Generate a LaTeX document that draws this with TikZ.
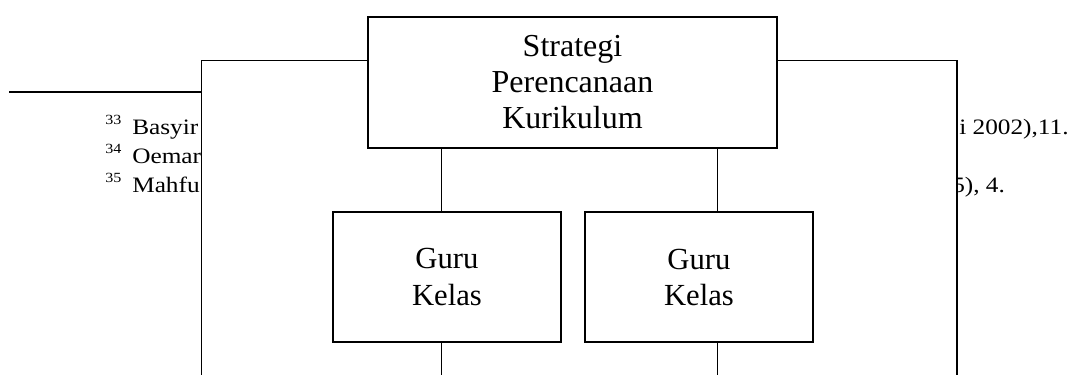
\documentclass[tikz,border=0pt]{standalone}
\usepackage{fontspec}
\usepackage{graphicx}
\setmainfont{Liberation Serif}
\begin{document}
\begin{tikzpicture}[x=0.75pt,y=-0.75pt,
  box/.style={draw,line width=1.5pt,fill=white,rectangle,inner sep=0pt,align=center},
  thin/.style={line width=0.75pt},
  thick2/.style={line width=1.5pt},
  fn/.style={anchor=base west,inner sep=0pt,font=\fontsize{16.5}{19}\selectfont},
  fnsup/.style={anchor=base west,inner sep=0pt,font=\fontsize{10.5}{12}\selectfont}]
\useasboundingbox (0,0) rectangle (1076,375);
% footnote text (partly hidden behind the diagram)
\node[fnsup] (s33) at (105,124) {\scalebox{1.15}[1]{33}};
\node[fnsup] (s34) at (105,153) {\scalebox{1.15}[1]{34}};
\node[fnsup] (s35) at (105,182) {\scalebox{1.15}[1]{35}};
\node[fn] (f33) at (132,134) {\scalebox{1.15}[1]{Basyir}};
\node[fn] (f34) at (132,163) {\scalebox{1.15}[1]{Oemar}};
\node[fn] (f35) at (132,192) {\scalebox{1.15}[1]{Mahfu}};
\node[fn] (r33) at (959,134) {\scalebox{1.15}[1]{i 2002),11.}};
\node[fn] (r35) at (952,192) {\scalebox{1.15}[1]{5), 4.}};
% coordinates
\coordinate (tl) at (201,60);
\coordinate (bl) at (201,375);
\coordinate (tr) at (957,60);
\coordinate (br) at (957,375);
\coordinate (c1) at (441,0);
\coordinate (c2) at (717,0);
\coordinate (bot) at (0,375);
\coordinate (rl) at (9,92);
\coordinate (rr) at (201,92);
% white area covering the footnotes
\fill[white] (tl) rectangle (br);
% footnote rule
\draw[thick2] (rl) -- (rr);
% boxes
\node[box,minimum width=306.75pt,minimum height=98.25pt,
      font=\fontsize{24}{27}\selectfont] (top) at (572.5,82)
      {Strategi\\Perencanaan\\Kurikulum};
\node[box,minimum width=171pt,minimum height=97.5pt,
      font=\fontsize{23}{29}\selectfont] (g1) at (447,277) {\raisebox{-1.5pt}{Guru}\\Kelas};
\node[box,minimum width=171pt,minimum height=97.5pt,
      font=\fontsize{23}{28}\selectfont] (g2) at (699,277) {\raisebox{-1pt}{Guru}\\Kelas};
% bracket lines
\draw[thin] (top.west |- tl) -- (tl) -- (bl);
\draw[thin] (top.east |- tr) -- (tr);
\draw[thick2] (tr) -- (br);
% connectors
\draw[thin] (top.south -| c1) -- (g1.north -| c1);
\draw[thin] (top.south -| c2) -- (g2.north -| c2);
\draw[thin] (g1.south -| c1) -- (bot -| c1);
\draw[thin] (g2.south -| c2) -- (bot -| c2);
\end{tikzpicture}
\end{document}
